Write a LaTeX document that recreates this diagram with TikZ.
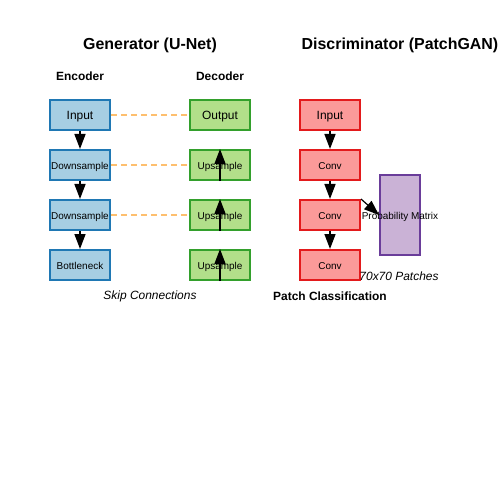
\documentclass[tikz,border=0pt]{standalone}
\usepackage{fontspec}
\setmainfont{Liberation Sans}
\usetikzlibrary{arrows.meta}

\definecolor{encfill}{HTML}{A6CEE3}
\definecolor{encline}{HTML}{1F78B4}
\definecolor{decfill}{HTML}{B2DF8A}
\definecolor{decline}{HTML}{33A02C}
\definecolor{disfill}{HTML}{FB9A99}
\definecolor{disline}{HTML}{E31A1C}
\definecolor{probfill}{HTML}{CAB2D6}
\definecolor{probline}{HTML}{6A3D9A}
\definecolor{skipline}{HTML}{FDBF6F}

\tikzset{
    layer/.style={draw, line width=2bp, minimum width=60bp, minimum height=30bp,
        inner sep=0pt, text height=0.9em, text depth=0pt,
        font=\fontsize{10}{12}\selectfont},
    enc/.style={layer, fill=encfill, draw=encline},
    dec/.style={layer, fill=decfill, draw=decline},
    dis/.style={layer, fill=disfill, draw=disline},
    big/.style={font=\fontsize{12}{14}\selectfont},
    flow/.style={-{Triangle[length=15bp,width=11bp]}, line width=1.5bp},
    skip/.style={dashed, dash pattern=on 6bp off 4bp, draw=skipline, line width=1.5bp},
    title/.style={font=\fontsize{16}{19}\selectfont\bfseries},
    head/.style={font=\fontsize{12}{14}\selectfont\bfseries}
}

\begin{document}
\begin{tikzpicture}[x=1bp, y=-1bp]
        \useasboundingbox[fill=white] (0,0) rectangle (500,500);
        \node[title] (gtitle) at (150,45) {Generator (U-Net)};
        \node[title] (dtitle) at (400,45) {Discriminator (PatchGAN)};
        \node[head] (enclab) at (80,76) {Encoder};
        \node[head] (declab) at (220,76) {Decoder};
        % encoder
        \node[enc, big] (e1) at (80,115) {Input};
        \node[enc] (e2) at (80,165) {Downsample};
        \node[enc] (e3) at (80,215) {Downsample};
        \node[enc] (e4) at (80,265) {Bottleneck};
        % decoder
        \node[dec, big] (d1) at (220,115) {Output};
        \node[dec] (d2) at (220,165) {Upsample};
        \node[dec] (d3) at (220,215) {Upsample};
        \node[dec] (d4) at (220,265) {Upsample};
        % discriminator
        \node[dis, big] (c1) at (330,115) {Input};
        \node[dis] (c2) at (330,165) {Conv};
        \node[dis] (c3) at (330,215) {Conv};
        \node[dis] (c4) at (330,265) {Conv};
        \node[draw=probline, fill=probfill, line width=2bp, minimum width=40bp,
            minimum height=80bp, inner sep=0pt] (prob) at (400,215) {};
        \node[font=\fontsize{10}{12}\selectfont, text height=0.9em, text depth=0pt,
            inner sep=0pt] (problab) at (400,215) {Probability Matrix};
        \draw[flow] (e1) -- (e2);
        \draw[flow] (e2) -- (e3);
        \draw[flow] (e3) -- (e4);
        \draw[flow] (d2.south) -- (d2.north);
        \draw[flow] (d3.south) -- (d3.north);
        \draw[flow] (d4.south) -- (d4.north);
        \draw[skip] (e1) -- (d1);
        \draw[skip] (e2) -- (d2);
        \draw[skip] (e3) -- (d3);
        \draw[flow] (c1) -- (c2);
        \draw[flow] (c2) -- (c3);
        \draw[flow] (c3) -- (c4);
        \draw[flow, line width=1.2bp] (c3.north east) -- (prob.west);
        \node[font=\fontsize{12}{14}\selectfont\itshape] (skiplab) at (150,296) {Skip Connections};
        \node[head] (patchlab) at (330,296) {Patch Classification};
        \node[font=\fontsize{12}{14}\selectfont\itshape] (sizelab) at (399,276) {70x70 Patches};
    \end{tikzpicture}
\end{document}
